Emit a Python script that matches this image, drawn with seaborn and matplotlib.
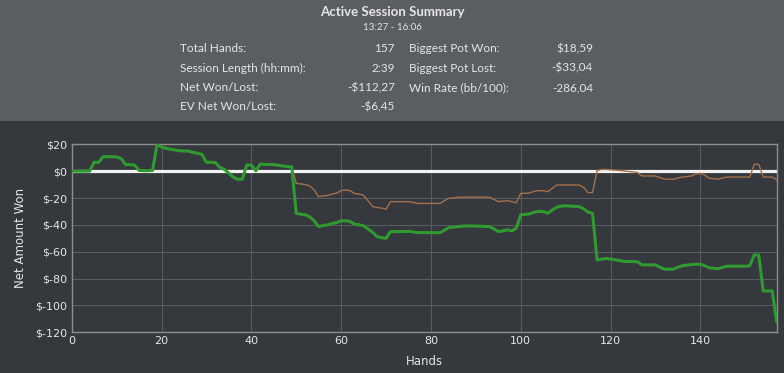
import numpy as np
import pandas as pd
import matplotlib
matplotlib.use("Agg")
import matplotlib.pyplot as plt
import seaborn as sns

# net won per hand (green) and EV net won (brown), hands 0..157
net_won = [
    0, 0, 0, 0, 0, 6.6, 6.6, 10.8, 10.8, 10.8,
    10.5, 9.5, 4.9, 4.9, 4.5, 0.5, 0.3, 0.3, 0.5, 19.5,
    18, 17, 16.3, 15.8, 15.2, 15, 15, 14, 13.3, 12.5,
    6.6, 6.6, 6.4, 2.8, 1.3, -1.5, -4.5, -6, -6, 4.7,
    4.5, 0.3, 5.3, 5, 5, 4.8, 4.5, 3.8, 3.4, 3.2,
    -31.4, -32, -32.5, -34, -37, -41.3, -40.5, -40, -39, -38.3,
    -37, -36.9, -37.5, -39.5, -40, -40.7, -43, -45.5, -48.8, -49.5,
    -50, -45, -45, -45, -45, -44.8, -45.3, -45.7, -45.8, -45.8,
    -45.8, -45.8, -45.8, -44, -42, -41.7, -41.3, -41, -40.8, -40.8,
    -41, -41, -41.2, -41.2, -43, -45, -44.5, -43.7, -44.5, -42.5,
    -32.6, -32.2, -31.8, -30.5, -30, -30, -31.3, -29, -26.9, -26,
    -25.8, -26, -26.2, -26.4, -28, -30.5, -31.5, -66, -65.5, -65,
    -65.5, -66, -66.5, -67.3, -67.3, -67.3, -67.5, -69.8, -69.8, -69.8,
    -69.8, -71.5, -73, -73, -73, -71.5, -70.5, -70, -69.5, -69.3,
    -69.3, -70.5, -72, -72.3, -72.6, -71.5, -70.8, -70.8, -70.8, -70.8,
    -70.8, -70.5, -62.4, -62.4, -89.2, -89.2, -89.2, -112.27,
]

ev_tail = [
    -9, -9.5, -10, -11, -14, -19, -18.5, -18, -17, -16.4,
    -14.5, -14, -14.5, -16.7, -17, -18, -22, -26.4, -27, -27.5,
    -28.3, -22.7, -22.7, -22.7, -22.7, -22.7, -23.3, -24, -24, -24,
    -24, -24, -24, -22, -20.2, -20, -19.4, -19.4, -19.4, -19.4,
    -19.4, -19.4, -19.4, -19.4, -21, -22.7, -22.3, -22, -22.7, -23.6,
    -16.5, -16.5, -16.2, -15, -14.5, -14.5, -15.3, -13, -10.3, -10.3,
    -10.3, -10.3, -10.3, -10.3, -12, -16, -16, 0.4, 1.3, 1.3,
    1, 0.8, 0.5, 0.2, -0.3, -0.5, -1, -3.6, -3.6, -3.6,
    -3.6, -4.8, -6, -6, -6, -5, -4.4, -4, -3.6, -2,
    -1.6, -3, -5.3, -5.6, -6, -5, -4.4, -4.4, -4.4, -4.4,
    -4.4, -4.4, 5.1, 5.1, -4.4, -4.4, -4.4, -6.45,
]
# EV equals actual result until the first all-in at hand 50
ev_won = net_won[:50] + ev_tail

hands = np.arange(len(net_won))

yticks = [20, 0, -20, -40, -60, -80, -100, -120]
xticks = [0, 20, 40, 60, 80, 100, 120, 140]

stats_left = [("Total Hands:", "157"),
              ("Session Length (hh:mm):", "2:39"),
              ("Net Won/Lost:", "-$112,27"),
              ("EV Net Won/Lost:", "-$6,45")]
stats_right = [("Biggest Pot Won:", "$18,59"),
               ("Biggest Pot Lost:", "-$33,04"),
               ("Win Rate (bb/100):", "-286,04")]

df = pd.DataFrame({"hand": hands, "net": net_won, "ev": ev_won})

sns.set_style("dark")
plt.rcParams["font.family"] = ["DejaVu Sans"]

bg_dark = "#35383c"
bg_head = "#5a5d61"
txt = "#e6e6e6"

fig = plt.figure(figsize=(7.84, 3.73), dpi=100, facecolor=bg_dark)

# header panel
head = fig.add_axes([0, 1 - 121 / 373, 1, 121 / 373])
head.set_facecolor(bg_head)
head.set_xticks([])
head.set_yticks([])
for s in head.spines.values():
    s.set_visible(False)
head.set_xlim(0, 784)
head.set_ylim(121, 0)

hfont = ["Lato", "DejaVu Sans"]
head.text(392, 12, "Active Session Summary", ha="center", va="center",
          fontsize=9.5, fontweight="bold", color=txt, family=hfont)
head.text(392, 27, "13:27 - 16:06", ha="center", va="center",
          fontsize=7, color=txt, family=hfont)
row_y = [48.5, 68, 87.5, 106.5]
for (lab, val), y in zip(stats_left, row_y):
    head.text(180, y, lab, ha="left", va="center", fontsize=8.5, color=txt, family=hfont)
    head.text(395, y, val, ha="right", va="center", fontsize=8.5, color=txt, family=hfont)
for (lab, val), y in zip(stats_right, row_y):
    head.text(409, y, lab, ha="left", va="center", fontsize=8.5, color=txt, family=hfont)
    head.text(593, y, val, ha="right", va="center", fontsize=8.5, color=txt, family=hfont)

# chart
ax = fig.add_axes([71.7 / 784, 1 - 332.3 / 373, 705 / 784, 188 / 373])
ax.set_facecolor(bg_dark)
ax.axhline(0, color="#f2f2f2", lw=2.3, zorder=2)
sns.lineplot(data=df, x="hand", y="ev", ax=ax, color="#a3704a", lw=1.0, zorder=3)
sns.lineplot(data=df, x="hand", y="net", ax=ax, color="#2f9a30", lw=2.2, zorder=4)

ax.set_xlim(0, 157)
ax.set_ylim(-120, 20)
ax.set_xticks(xticks)
ax.set_yticks(yticks)
ax.set_yticklabels([f"${v}" for v in yticks])
ax.grid(True, color="#585b5f", lw=0.8)
ax.tick_params(colors=txt, labelsize=8, length=0, pad=3)
for s in ax.spines.values():
    s.set_color("#8e8e8e")
    s.set_linewidth(1.0)
ax.set_xlabel("Hands", color=txt, fontsize=8.5, labelpad=6)
ax.set_ylabel("Net Amount Won", color=txt, fontsize=8.5, labelpad=6)

fig.savefig("out.png", dpi=100, facecolor=bg_dark)
